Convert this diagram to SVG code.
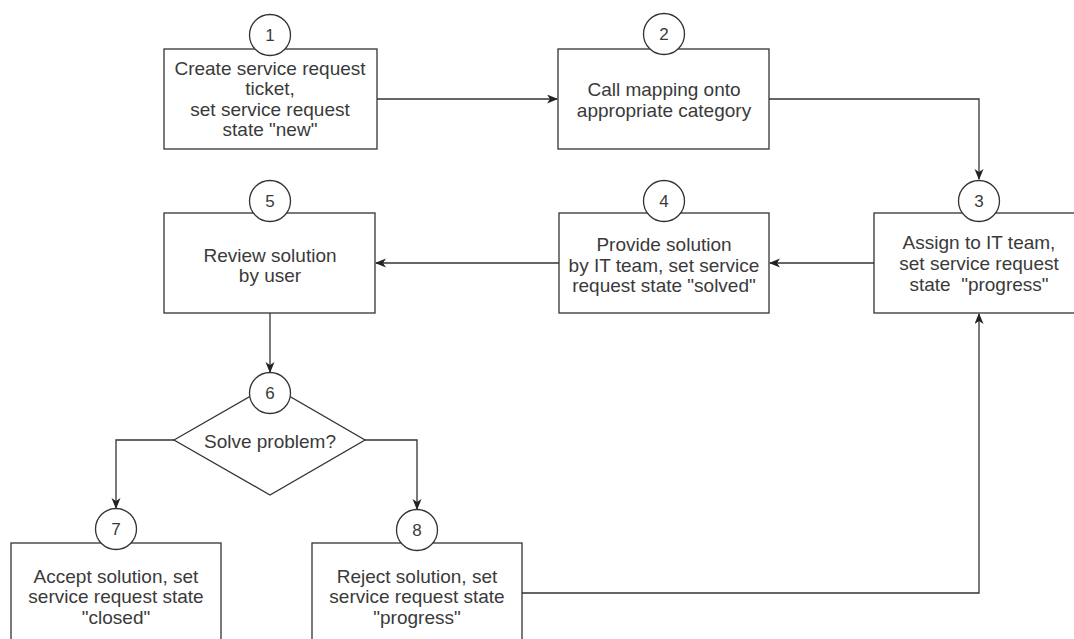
<svg xmlns="http://www.w3.org/2000/svg" width="1074" height="639" viewBox="0 0 1074 639">
<defs>
<style>
.box{fill:#fff;stroke:#333;stroke-width:1.3}
.num{fill:#fff;stroke:#333;stroke-width:1.3}
.t{font-family:"Liberation Sans",Arial,sans-serif;font-size:19px;fill:#3a3a3a;text-anchor:middle}
.n{font-family:"Liberation Sans",Arial,sans-serif;font-size:17px;fill:#3a3a3a;text-anchor:middle}
.c{fill:none;stroke:#333;stroke-width:1.3}
</style>
<marker id="ah" markerWidth="12" markerHeight="10" refX="10" refY="4.5" orient="auto" markerUnits="userSpaceOnUse">
<path d="M0,0 L11,4.5 L0,9 L3,4.5 Z" fill="#222"/>
</marker>
</defs>
<rect width="1074" height="639" fill="#fff"/>
<g id="connectors">
<path class="c" d="M377,99 H557" marker-end="url(#ah)"/>
<path class="c" d="M769,99 H979 V179" marker-end="url(#ah)"/>
<path class="c" d="M874,263 H770" marker-end="url(#ah)"/>
<path class="c" d="M559,263 H376" marker-end="url(#ah)"/>
<path class="c" d="M270,313 V372" marker-end="url(#ah)"/>
<path class="c" d="M174,440 H116 V508" marker-end="url(#ah)"/>
<path class="c" d="M365,440 H417 V509" marker-end="url(#ah)"/>
<path class="c" d="M522,593 H979 V314" marker-end="url(#ah)"/>
</g>
<g id="node1">
<rect class="box" x="164" y="49" width="213" height="100"/>
<circle class="num" cx="270" cy="35" r="20.5"/>
<text class="n" x="270" y="41">1</text>
<text class="t" x="270" y="75">Create service request</text>
<text class="t" x="270" y="95">ticket,</text>
<text class="t" x="270" y="116">set service request</text>
<text class="t" x="270" y="136">state "new"</text>
</g>
<g id="node2">
<rect class="box" x="558" y="49" width="211" height="100"/>
<circle class="num" cx="664" cy="34" r="20.5"/>
<text class="n" x="664" y="40">2</text>
<text class="t" x="664" y="96">Call mapping onto</text>
<text class="t" x="664" y="117">appropriate category</text>
</g>
<g id="node3">
<rect class="box" x="874" y="213" width="210" height="100"/>
<circle class="num" cx="979" cy="201" r="20.5"/>
<text class="n" x="979" y="207">3</text>
<text class="t" x="979" y="249">Assign to IT team,</text>
<text class="t" x="979" y="270">set service request</text>
<text class="t" x="979" y="291" xml:space="preserve">state  "progress"</text>
</g>
<g id="node4">
<rect class="box" x="559" y="213" width="210" height="100"/>
<circle class="num" cx="664" cy="201" r="20.5"/>
<text class="n" x="664" y="207">4</text>
<text class="t" x="664" y="251">Provide solution</text>
<text class="t" x="664" y="272">by IT team, set service</text>
<text class="t" x="664" y="292">request state "solved"</text>
</g>
<g id="node5">
<rect class="box" x="164" y="213" width="211" height="100"/>
<circle class="num" cx="270" cy="201" r="20.5"/>
<text class="n" x="270" y="207">5</text>
<text class="t" x="270" y="262">Review solution</text>
<text class="t" x="270" y="282">by user</text>
</g>
<g id="node6">
<polygon class="box" points="174,440 270,385 365,440 270,495"/>
<circle class="num" cx="270" cy="393" r="20.5"/>
<text class="n" x="270" y="399">6</text>
<text class="t" x="270" y="448">Solve problem?</text>
</g>
<g id="node7">
<rect class="box" x="11" y="543" width="210" height="102"/>
<circle class="num" cx="116" cy="529" r="20.5"/>
<text class="n" x="116" y="535">7</text>
<text class="t" x="116" y="583">Accept solution, set</text>
<text class="t" x="116" y="603">service request state</text>
<text class="t" x="116" y="624">"closed"</text>
</g>
<g id="node8">
<rect class="box" x="312" y="543" width="210" height="102"/>
<circle class="num" cx="417" cy="530" r="20.5"/>
<text class="n" x="417" y="536">8</text>
<text class="t" x="417" y="583">Reject solution, set</text>
<text class="t" x="417" y="603">service request state</text>
<text class="t" x="417" y="624">"progress"</text>
</g>
</svg>
